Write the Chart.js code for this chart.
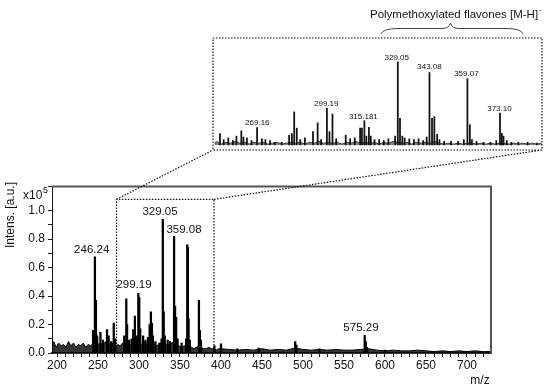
<!DOCTYPE html>
<html lang="en">
<head>
    <meta charset="UTF-8">
    <title>MS spectrum</title>
    <script src="https://cdn.jsdelivr.net/npm/chart.js"></script>
    <style>
        body { margin: 0; background: #fff; }
        #wrap { position: relative; width: 550px; height: 391px; }
        #mainChart { position: absolute; left: 0; top: 0; }
        #insetChart { position: absolute; left: 213px; top: 38px; }
    </style>
</head>
<body>
<div id="wrap">
    <canvas id="mainChart" width="550" height="391"></canvas>
    <canvas id="insetChart" width="329" height="112"></canvas>
</div>

<script>
    // ---- data (intensity in x10^5 a.u.) ----
    // main spectrum: peak sticks [m/z, intensity]
    const mainPeaks = [
        [244, 0.16], [246.24, 0.675], [247.5, 0.37], [249, 0.12], [253, 0.145], [256, 0.09],
        [261, 0.165], [263, 0.12], [266, 0.08], [269.2, 0.21], [271, 0.1], [282, 0.12],
        [284.5, 0.38], [285.5, 0.2], [288, 0.09], [291, 0.1], [293, 0.165], [295, 0.26],
        [297, 0.12], [299.19, 0.42], [300.3, 0.39], [301.5, 0.17], [305, 0.12], [308, 0.09],
        [311, 0.11], [313, 0.2], [314.5, 0.29], [315.8, 0.21], [317, 0.12], [320, 0.08],
        [325, 0.07], [327.5, 0.1], [329.05, 0.94], [330.2, 0.29], [331.5, 0.12], [335, 0.09],
        [338, 0.08], [342.8, 0.82], [344, 0.33], [345.3, 0.25], [347, 0.1], [352, 0.07],
        [357.5, 0.1], [358.9, 0.76], [359.6, 0.74], [360.5, 0.24], [362, 0.09], [373.1, 0.37],
        [374.2, 0.16], [375.5, 0.09], [392, 0.05], [400, 0.065], [420, 0.03], [446, 0.035],
        [490.5, 0.08], [492, 0.055], [520, 0.03], [575.29, 0.125], [576.5, 0.08], [578, 0.04],
        [600, 0.02]
    ];
    // main spectrum: noise floor [m/z, intensity]
    const mainNoise = [
        [194, 0.05], [196, 0.08], [199, 0.04], [202, 0.07], [205, 0.05], [208, 0.06], [211, 0.04],
        [214, 0.08], [217, 0.05], [220, 0.07], [223, 0.04], [226, 0.06], [229, 0.05], [232, 0.07],
        [235, 0.04], [238, 0.06], [241, 0.05], [244, 0.07], [247, 0.05], [250, 0.06], [253, 0.07],
        [256, 0.05], [259, 0.08], [262, 0.06], [265, 0.05], [268, 0.07], [271, 0.04], [274, 0.06],
        [277, 0.05], [280, 0.07], [283, 0.06], [286, 0.08], [289, 0.05], [292, 0.07], [295, 0.06],
        [298, 0.08], [301, 0.07], [304, 0.06], [307, 0.08], [310, 0.05], [313, 0.09], [316, 0.07],
        [319, 0.06], [322, 0.05], [325, 0.07], [328, 0.06], [331, 0.08], [334, 0.05], [337, 0.06],
        [340, 0.07], [343, 0.08], [346, 0.06], [349, 0.05], [352, 0.04], [355, 0.05], [358, 0.06],
        [361, 0.05], [364, 0.04], [367, 0.03], [370, 0.04], [373, 0.05], [376, 0.04], [379, 0.03],
        [382, 0.03], [385, 0.04], [388, 0.03], [391, 0.03], [394, 0.02], [397, 0.03], [400, 0.03],
        [410, 0.025], [420, 0.02], [430, 0.025], [440, 0.02], [450, 0.03], [460, 0.02], [470, 0.025],
        [480, 0.02], [490, 0.035], [500, 0.025], [510, 0.02], [520, 0.025], [530, 0.02], [540, 0.025],
        [550, 0.02], [560, 0.02], [570, 0.025], [580, 0.03], [590, 0.02], [600, 0.015], [610, 0.02],
        [620, 0.015], [630, 0.015], [640, 0.02], [650, 0.015], [660, 0.01], [670, 0.015], [680, 0.01],
        [690, 0.015], [700, 0.01], [710, 0.015], [720, 0.01], [729, 0.01]
    ];
    // main peak labels [text, m/z, intensity] (label centre)
    const mainLabels = [
        ['246.24', 242.3, 0.723], ['299.19', 293.9, 0.477], ['329.05', 325.6, 0.993],
        ['359.08', 354.9, 0.864], ['575.29', 570.7, 0.176]
    ];

    // inset (zoom of the flavone region)
    const insetPeaks = [
        [252.4, 0.13], [254, 0.06], [256, 0.08], [258, 0.05], [259.5, 0.1], [261.6, 0.16],
        [262.5, 0.09], [264, 0.08], [266, 0.05], [268.4, 0.196], [270.5, 0.07], [272, 0.06],
        [274, 0.05], [276, 0.03], [279, 0.03], [282.2, 0.11], [283.4, 0.13], [284.4, 0.374],
        [285.5, 0.19], [287, 0.06], [289, 0.08], [292.5, 0.15], [294.5, 0.25], [296, 0.06],
        [298.5, 0.415], [299.6, 0.15], [300.9, 0.35], [302.5, 0.07], [306.6, 0.11], [308.5, 0.07],
        [310.5, 0.08], [312.8, 0.19], [313.6, 0.19], [314.65, 0.275], [315.5, 0.1], [316.6, 0.2],
        [317.4, 0.1], [319, 0.06], [321, 0.06], [323, 0.05], [325, 0.07], [327.9, 0.1],
        [329.05, 0.94], [330, 0.3], [331, 0.1], [332, 0.08], [334, 0.07], [336, 0.06],
        [338, 0.07], [340, 0.05], [341.5, 0.09], [342.7, 0.82], [343.8, 0.3], [344.8, 0.32],
        [346, 0.12], [347, 0.06], [349, 0.04], [352, 0.04], [355, 0.04], [357.5, 0.06],
        [359.05, 0.75], [360.1, 0.23], [361, 0.06], [363, 0.04], [366, 0.03], [369, 0.03],
        [371.5, 0.05], [373.1, 0.36], [373.9, 0.13], [374.6, 0.1], [376, 0.05], [378, 0.03],
        [381, 0.03], [385, 0.03], [389, 0.02]
    ];
    const insetNoise = [
        [250, 0.02], [251, 0.04], [253, 0.01], [255, 0.03], [257, 0.02], [259, 0.04], [261, 0.02],
        [263, 0.03], [265, 0.01], [267, 0.03], [269, 0.02], [271, 0.03], [273, 0.01], [275, 0.02],
        [277, 0.03], [279, 0.01], [281, 0.02], [283, 0.03], [285, 0.02], [287, 0.03], [289, 0.01],
        [291, 0.03], [293, 0.02], [295, 0.04], [297, 0.02], [299, 0.03], [301, 0.02], [303, 0.03],
        [305, 0.01], [307, 0.03], [309, 0.02], [311, 0.04], [313, 0.02], [315, 0.03], [317, 0.02],
        [319, 0.03], [321, 0.01], [323, 0.03], [325, 0.02], [327, 0.04], [329, 0.03], [331, 0.02],
        [333, 0.03], [335, 0.01], [337, 0.03], [339, 0.02], [341, 0.03], [343, 0.02], [345, 0.04],
        [347, 0.02], [349, 0.01], [351, 0.02], [353, 0.01], [355, 0.02], [357, 0.01], [359, 0.02],
        [361, 0.02], [363, 0.01], [365, 0.02], [367, 0.01], [369, 0.02], [371, 0.01], [373, 0.02],
        [375, 0.02], [377, 0.01], [379, 0.02], [381, 0.01], [383, 0.02], [385, 0.01], [387, 0.02],
        [389, 0.01], [391, 0.02]
    ];
    const insetLabels = [
        ['269.16', 268.5, 0.25], ['299.19', 298.2, 0.464], ['315.181', 314.2, 0.32],
        ['329.05', 328.6, 0.99], ['343.08', 342.7, 0.884], ['359.07', 358.6, 0.807],
        ['373.10', 372.85, 0.404]
    ];

    // zoomed window marked on the main spectrum
    const zoomFrom = 272.6, zoomTo = 391.5, zoomTop = 1.08;

    const FONT = '"Liberation Sans", Arial, sans-serif';
    const toXY = arr => arr.map(p => ({ x: p[0], y: p[1] }));

    // frame, zoom box, connector lines, texts
    const decorPlugin = {
        id: 'decor',
        afterDraw(chart) {
            const { ctx, chartArea: a, scales: { x, y } } = chart;
            ctx.save();

            // top + right frame
            ctx.strokeStyle = '#555';
            ctx.lineWidth = 2;
            ctx.beginPath();
            ctx.moveTo(a.left, a.top);
            ctx.lineTo(a.right, a.top);
            ctx.lineTo(a.right, a.bottom);
            ctx.stroke();

            // dotted zoom box + connectors + inset frame
            const x1 = x.getPixelForValue(zoomFrom), x2 = x.getPixelForValue(zoomTo);
            const yt = y.getPixelForValue(zoomTop);
            const ins = { l: 213, t: 38, r: 542, b: 150 };
            ctx.strokeStyle = '#111';
            ctx.lineWidth = 1.2;
            ctx.setLineDash([1.5, 1.5]);
            ctx.beginPath();
            ctx.moveTo(x1, a.bottom); ctx.lineTo(x1, yt); ctx.lineTo(x2, yt); ctx.lineTo(x2, a.bottom);
            ctx.moveTo(x1, yt); ctx.lineTo(ins.l, ins.b);
            ctx.moveTo(x2, yt); ctx.lineTo(ins.r, ins.b);
            ctx.rect(ins.l, ins.t, ins.r - ins.l, ins.b - ins.t);
            ctx.stroke();
            ctx.setLineDash([]);

            // peak labels
            ctx.fillStyle = '#111';
            ctx.font = '11.5px ' + FONT;
            ctx.textAlign = 'center';
            ctx.textBaseline = 'middle';
            mainLabels.forEach(l => ctx.fillText(l[0], x.getPixelForValue(l[1]), y.getPixelForValue(l[2])));

            // axis texts
            ctx.font = '12px ' + FONT;
            ctx.fillText('m/z', 480, 381);
            ctx.textAlign = 'left';
            ctx.fillText('x10', 23, 196);
            ctx.font = '9px ' + FONT;
            ctx.fillText('5', 43, 191);
            ctx.save();
            ctx.translate(11, 215);
            ctx.rotate(-Math.PI / 2);
            ctx.textAlign = 'center';
            ctx.font = '12px ' + FONT;
            ctx.fillText('Intens. [a.u.]', 0, 0);
            ctx.restore();

            // title + brace
            ctx.font = '11.5px ' + FONT;
            ctx.textAlign = 'left';
            const title = 'Polymethoxylated flavones [M-H]';
            ctx.fillText(title, 370, 15);
            const tw = ctx.measureText(title).width;
            ctx.font = '8px ' + FONT;
            ctx.fillText('-', 370 + tw + 1, 10);

            ctx.strokeStyle = '#444';
            ctx.lineWidth = 1;
            ctx.beginPath();
            ctx.moveTo(381, 34);
            ctx.quadraticCurveTo(383, 28.5, 398, 28.5);
            ctx.lineTo(442, 28.5);
            ctx.quadraticCurveTo(449, 28.5, 450.5, 23);
            ctx.quadraticCurveTo(452, 28.5, 459, 28.5);
            ctx.lineTo(507, 28.5);
            ctx.quadraticCurveTo(521, 28.5, 523, 34);
            ctx.stroke();

            ctx.restore();
        }
    };

    new Chart(document.getElementById('mainChart'), {
        type: 'bar',
        data: {
            datasets: [
                { type: 'bar', data: toXY(mainPeaks), backgroundColor: '#000', borderWidth: 0, barThickness: 1.6 },
                { type: 'line', data: toXY(mainNoise), borderColor: '#000', borderWidth: 1, pointRadius: 0,
                  fill: 'origin', backgroundColor: 'rgba(0,0,0,0.8)', tension: 0 }
            ]
        },
        options: {
            responsive: false,
            animation: false,
            devicePixelRatio: 1,
            layout: { padding: { left: 0, top: 186.5, right: 59, bottom: 0 } },
            plugins: { legend: { display: false }, tooltip: { enabled: false } },
            scales: {
                x: {
                    type: 'linear', min: 193.9, max: 729.3, offset: false,
                    afterFit: s => { s.height = 38; },
                    // minor tick every 10, label every 50
                    afterBuildTicks: s => {
                        const t = [];
                        for (let v = 200; v <= s.max; v += 10) t.push({ value: v });
                        s.ticks = t;
                    },
                    grid: { drawOnChartArea: false, offset: false, tickLength: 4, color: '#222' },
                    border: { color: '#333', width: 2 },
                    ticks: {
                        autoSkip: false, maxRotation: 0, padding: 1,
                        color: '#111', font: { family: FONT, size: 12 },
                        callback: v => (v % 50 === 0 ? String(v) : '')
                    }
                },
                y: {
                    min: 0, max: 1.17,
                    afterFit: s => { s.width = 52; },
                    grid: { drawOnChartArea: false, tickLength: 4, color: '#222' },
                    border: { color: '#111', width: 1 },
                    ticks: {
                        stepSize: 0.1, autoSkip: false, padding: 3,
                        color: '#111', font: { family: FONT, size: 12 },
                        callback: v => (v <= 1.05 && Math.round(v * 10) % 2 === 0 ? v.toFixed(1) : '')
                    }
                }
            }
        },
        plugins: [decorPlugin]
    });

    // inset labels
    const insetLabelPlugin = {
        id: 'insetLabels',
        afterDraw(chart) {
            const { ctx, scales: { x, y } } = chart;
            ctx.save();
            ctx.fillStyle = '#111';
            ctx.font = '8px ' + FONT;
            ctx.textAlign = 'center';
            ctx.textBaseline = 'middle';
            insetLabels.forEach(l => ctx.fillText(l[0], x.getPixelForValue(l[1]), y.getPixelForValue(l[2])));
            ctx.restore();
        }
    };

    new Chart(document.getElementById('insetChart'), {
        type: 'bar',
        data: {
            datasets: [
                { type: 'bar', data: toXY(insetPeaks), backgroundColor: '#111', borderWidth: 0, barThickness: 1.1 },
                { type: 'line', data: toXY(insetNoise), borderColor: '#222', borderWidth: 0.8, pointRadius: 0,
                  fill: 'origin', backgroundColor: 'rgba(0,0,0,0.5)', tension: 0 }
            ]
        },
        options: {
            responsive: false,
            animation: false,
            devicePixelRatio: 1,
            layout: { padding: 0 },
            plugins: { legend: { display: false }, tooltip: { enabled: false } },
            scales: {
                x: { type: 'linear', display: false, min: 249.4, max: 391.2, bounds: 'data', offset: false },
                y: { display: false, min: -0.057, max: 1.21, bounds: 'data' }
            }
        },
        plugins: [insetLabelPlugin]
    });
</script>
</body>
</html>
